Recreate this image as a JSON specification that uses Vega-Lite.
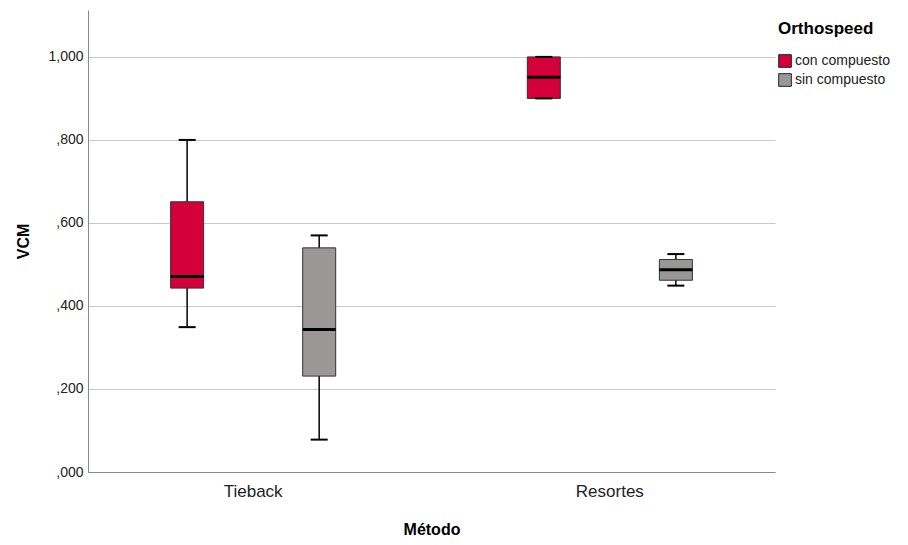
{
  "$schema": "https://vega.github.io/schema/vega-lite/v6.json",
  "autosize": {"type": "none"},
  "padding": {"left": 88, "top": 10, "right": 133, "bottom": 73},
  "width": 687,
  "height": 462,
  "data": {
    "values": [
      {"Metodo": "Tieback", "Ortho": "con compuesto", "min": 0.349, "q1": 0.443, "median": 0.471, "q3": 0.651, "max": 0.8},
      {"Metodo": "Tieback", "Ortho": "sin compuesto", "min": 0.078, "q1": 0.231, "median": 0.343, "q3": 0.54, "max": 0.57},
      {"Metodo": "Resortes", "Ortho": "con compuesto", "min": 0.9, "q1": 0.9, "median": 0.951, "q3": 1.0, "max": 1.0},
      {"Metodo": "Resortes", "Ortho": "sin compuesto", "min": 0.449, "q1": 0.462, "median": 0.487, "q3": 0.512, "max": 0.525}
    ]
  },
  "encoding": {
    "x": {
      "field": "Metodo", "type": "nominal", "sort": ["Tieback", "Resortes"],
      "scale": {"paddingInner": 0.15, "paddingOuter": 0.038},
      "axis": {"title": "Método", "labelAngle": 0, "labelFontSize": 17, "labelColor": "#222", "labelPadding": 11, "ticks": false, "domainColor": "#888", "titleFontSize": 16, "titleFontWeight": "bold", "titlePadding": 22, "titleColor": "#000"}
    },
    "xOffset": {"field": "Ortho", "type": "nominal", "sort": ["con compuesto", "sin compuesto"], "scale": {"paddingInner": 0, "paddingOuter": 0.148}}
  },
  "layer": [
    {
      "mark": {"type": "rule", "color": "#000", "strokeWidth": 1.5},
      "encoding": {
        "y": {"field": "min", "type": "quantitative", "scale": {"domain": [0, 1.113], "nice": false, "zero": true},
          "axis": {"title": "VCM", "values": [0, 0.2, 0.4, 0.6, 0.8, 1.0],
            "labelExpr": "datum.value >= 1 ? replace(format(datum.value, '.3f'), '.', ',') : replace(format(datum.value, '.3f'), '0.', ',')",
            "grid": true, "gridColor": "#c8c8c8", "gridWidth": 1, "ticks": false, "labelPadding": 5, "labelFontSize": 14, "labelColor": "#222",
            "domainColor": "#888", "titleFontSize": 16, "titleFontWeight": "bold", "titlePadding": 16, "titleColor": "#000"}},
        "y2": {"field": "max"}
      }
    },
    {
      "mark": {"type": "bar", "size": 33, "stroke": "#333", "strokeWidth": 1},
      "encoding": {
        "y": {"field": "q1", "type": "quantitative"},
        "y2": {"field": "q3"},
        "color": {"field": "Ortho", "type": "nominal", "sort": ["con compuesto", "sin compuesto"],
          "scale": {"domain": ["con compuesto", "sin compuesto"], "range": ["#d4003a", "#9b9797"]},
          "legend": {"title": "Orthospeed", "orient": "none", "legendX": 690, "legendY": 11, "symbolType": "square", "symbolSize": 160, "symbolStrokeColor": "#222", "symbolStrokeWidth": 1, "labelFontSize": 14, "labelColor": "#222", "titleFontSize": 17, "titleFontWeight": "bold", "titleColor": "#000", "titlePadding": 16, "rowPadding": 1, "labelOffset": 3}}
      }
    },
    {
      "mark": {"type": "tick", "color": "#000", "thickness": 3, "size": 33, "opacity": 1},
      "encoding": {"y": {"field": "median", "type": "quantitative"}}
    },
    {
      "mark": {"type": "tick", "color": "#000", "thickness": 2, "size": 17, "opacity": 1},
      "encoding": {"y": {"field": "min", "type": "quantitative"}}
    },
    {
      "mark": {"type": "tick", "color": "#000", "thickness": 2, "size": 17, "opacity": 1},
      "encoding": {"y": {"field": "max", "type": "quantitative"}}
    }
  ],
  "config": {
    "view": {"stroke": null},
    "font": "Liberation Sans"
  }
}
